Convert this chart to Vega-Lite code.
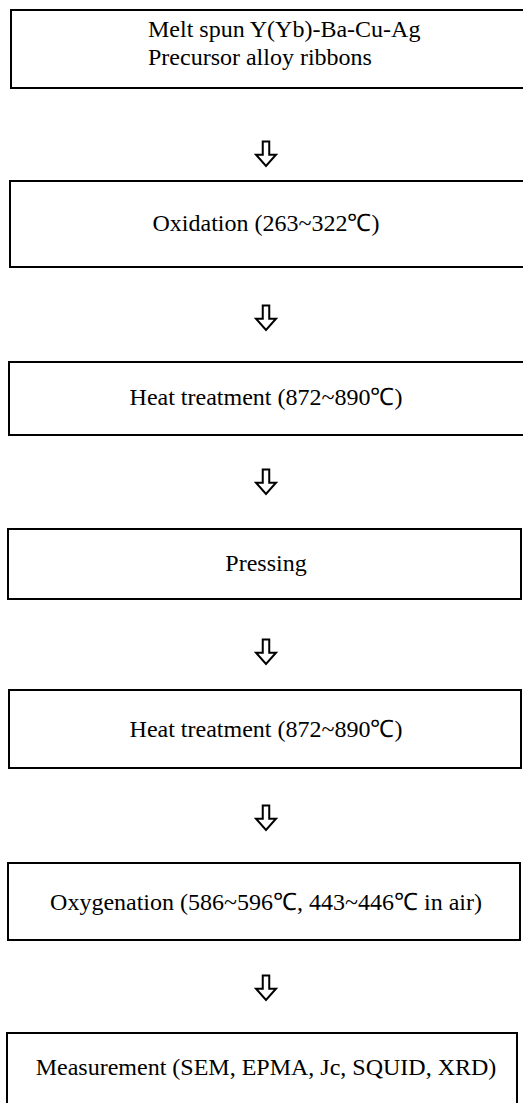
{
  "$schema": "https://vega.github.io/schema/vega-lite/v6.json",
  "width": 523,
  "height": 1103,
  "autosize": "none",
  "padding": 0,
  "background": "white",
  "config": {"view": {"stroke": null}},
  "datasets": {
    "boxes": [
      {"step": 1, "x0": 11, "x1": 526, "y0": 10, "y1": 88},
      {"step": 2, "x0": 10, "x1": 526, "y0": 181, "y1": 267},
      {"step": 3, "x0": 9, "x1": 526, "y0": 362, "y1": 435},
      {"step": 4, "x0": 8, "x1": 521, "y0": 529, "y1": 599},
      {"step": 5, "x0": 9, "x1": 521, "y0": 690, "y1": 768},
      {"step": 6, "x0": 8, "x1": 520, "y0": 863, "y1": 940},
      {"step": 7, "x0": 7, "x1": 517, "y0": 1033, "y1": 1112}
    ],
    "centered": [
      {"step": 2, "label": "Oxidation (263~322℃)", "ty": 224},
      {"step": 3, "label": "Heat treatment (872~890℃)", "ty": 398},
      {"step": 4, "label": "Pressing", "ty": 564},
      {"step": 5, "label": "Heat treatment (872~890℃)", "ty": 730},
      {"step": 6, "label": "Oxygenation (586~596℃, 443~446℃ in air)", "ty": 903},
      {"step": 7, "label": "Measurement (SEM, EPMA, Jc, SQUID, XRD)", "ty": 1068}
    ],
    "first": [
      {"line": 1, "label": "Melt spun  Y(Yb)-Ba-Cu-Ag", "tx": 148, "ty": 30},
      {"line": 2, "label": "Precursor alloy ribbons", "tx": 148, "ty": 58}
    ],
    "arrows": [
      {"from": 1, "ax": 266, "ay": 154},
      {"from": 2, "ax": 266, "ay": 318},
      {"from": 3, "ax": 266, "ay": 482},
      {"from": 4, "ax": 266, "ay": 652},
      {"from": 5, "ax": 266, "ay": 818},
      {"from": 6, "ax": 266, "ay": 988}
    ]
  },
  "layer": [
    {
      "data": {"name": "boxes"},
      "mark": {"type": "rect", "fill": "white", "stroke": "#000", "strokeWidth": 2},
      "encoding": {
        "x": {"field": "x0", "type": "quantitative", "scale": {"domain": [0, 523], "nice": false, "zero": false}, "axis": null},
        "x2": {"field": "x1"},
        "y": {"field": "y0", "type": "quantitative", "scale": {"domain": [1103, 0], "nice": false, "zero": false}, "axis": null},
        "y2": {"field": "y1"}
      }
    },
    {
      "data": {"name": "centered"},
      "mark": {"type": "text", "font": "Liberation Serif", "fontSize": 24, "align": "center", "baseline": "middle", "color": "#000"},
      "encoding": {
        "x": {"datum": 266, "type": "quantitative"},
        "y": {"field": "ty", "type": "quantitative"},
        "text": {"field": "label"}
      }
    },
    {
      "data": {"name": "first"},
      "mark": {"type": "text", "font": "Liberation Serif", "fontSize": 24, "align": "left", "baseline": "middle", "color": "#000"},
      "encoding": {
        "x": {"field": "tx", "type": "quantitative"},
        "y": {"field": "ty", "type": "quantitative"},
        "text": {"field": "label"}
      }
    },
    {
      "data": {"name": "arrows"},
      "mark": {"type": "point", "filled": false, "stroke": "#000", "strokeWidth": 2, "opacity": 1, "size": 625,
        "shape": "M -0.26 -1 L 0.26 -1 L 0.26 0.05 L 0.8 0.05 L 0 0.95 L -0.8 0.05 L -0.26 0.05 Z"},
      "encoding": {
        "x": {"field": "ax", "type": "quantitative"},
        "y": {"field": "ay", "type": "quantitative"}
      }
    }
  ]
}
